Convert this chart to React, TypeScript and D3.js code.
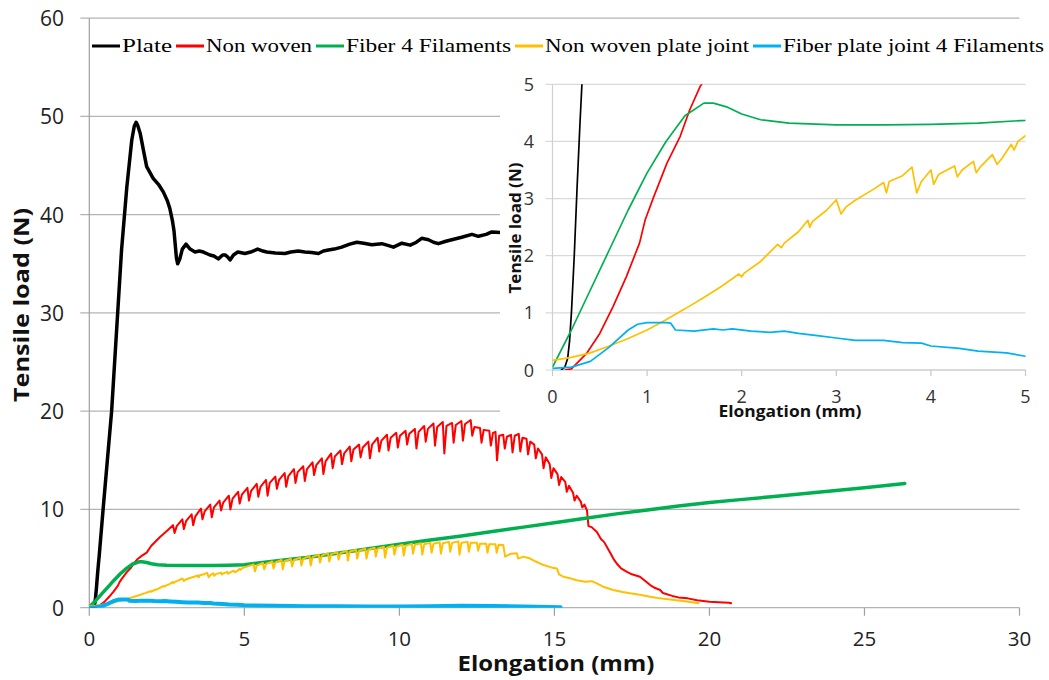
import React from "react";
import * as d3 from "d3";

type P = [number, number];

// ---------------- DATA ----------------
const seriesNames = [
  "Plate",
  "Non woven",
  "Fiber 4 Filaments",
  "Non woven plate joint",
  "Fiber plate joint 4 Filaments",
];

const plate: P[] = [
  [0.09, 0], [0.13, 0.05], [0.16, 0.2], [0.18, 0.5], [0.2, 1.0], [0.23, 2.0], [0.26, 3.2], [0.29, 4.3],
  [0.32, 5.3], [0.45, 10.2], [0.72, 20], [1.04, 36.4], [1.21, 42.8], [1.37, 47.6], [1.45, 49.0], [1.51, 49.4],
  [1.56, 49.1], [1.64, 48.3], [1.75, 46.5], [1.85, 44.9], [2.06, 43.7], [2.25, 43.0], [2.39, 42.3], [2.52, 41.4],
  [2.6, 40.6], [2.68, 39.4], [2.73, 38.4], [2.77, 37.0], [2.81, 35.6], [2.85, 35.0], [2.92, 35.5], [3.0, 36.5],
  [3.12, 37.0], [3.25, 36.5], [3.41, 36.2], [3.55, 36.3], [3.68, 36.2], [3.89, 35.9], [4.02, 35.8], [4.16, 35.5],
  [4.3, 35.9], [4.38, 35.9], [4.46, 35.7], [4.54, 35.4], [4.65, 35.9], [4.79, 36.2], [5.02, 36.05], [5.2, 36.2],
  [5.43, 36.5], [5.6, 36.3], [5.72, 36.2], [6.0, 36.1], [6.31, 36.05], [6.5, 36.2], [6.74, 36.3], [6.95, 36.2],
  [7.17, 36.15], [7.39, 36.05], [7.55, 36.3], [7.71, 36.4], [7.9, 36.5], [8.14, 36.7], [8.4, 37.0], [8.63, 37.2],
  [8.85, 37.1], [9.11, 36.95], [9.43, 37.05], [9.6, 36.9], [9.81, 36.7], [10.08, 37.1], [10.35, 36.9], [10.55, 37.2],
  [10.72, 37.6], [10.94, 37.45], [11.1, 37.2], [11.26, 37.05], [11.5, 37.3], [11.69, 37.45], [12.01, 37.7],
  [12.34, 38.0], [12.55, 37.8], [12.8, 38.0], [12.98, 38.25], [13.25, 38.2], [13.5, 38.1], [13.8, 38.3],
  [14.0, 38.0], [14.3, 38.2], [14.6, 38.4], [14.8, 38.2],
];

const nonWoven: P[] = [
  [0.13, 0], [0.2, 0.02], [0.36, 0.29], [0.5, 0.64], [0.64, 1.11], [0.78, 1.63], [0.92, 2.22], [0.98, 2.63],
  [1.07, 3.03], [1.21, 3.62], [1.35, 4.09], [1.45, 4.55], [1.56, 4.96], [1.7, 5.3], [1.85, 5.6], [2.0, 6.3],
  [2.28, 7.2], [2.5, 7.8],
  [2.7, 8.4], [2.75, 7.6], [2.82, 8.3],
  [3.0, 9.0], [3.05, 8.0], [3.12, 8.8],
  [3.3, 9.5], [3.35, 8.4], [3.42, 9.3],
  [3.6, 10.1], [3.65, 9.0], [3.72, 9.8],
  [3.9, 10.5], [3.95, 9.2], [4.02, 10.2],
  [4.2, 10.9], [4.25, 9.9], [4.32, 10.7],
  [4.5, 11.4], [4.55, 10.0], [4.62, 11.1],
  [4.8, 11.8], [4.85, 10.6], [4.92, 11.5],
  [5.1, 12.2], [5.15, 10.9], [5.22, 11.9],
  [5.4, 12.6], [5.45, 11.3], [5.52, 12.3],
  [5.7, 13.0], [5.75, 11.4], [5.82, 12.7],
  [6.0, 13.35], [6.05, 12.1], [6.12, 13.0],
  [6.3, 13.7], [6.35, 12.3], [6.42, 13.4],
  [6.6, 14.1], [6.65, 12.7], [6.72, 13.8],
  [6.9, 14.4], [6.95, 12.9], [7.02, 14.1],
  [7.2, 14.8], [7.25, 13.5], [7.32, 14.5],
  [7.5, 15.2], [7.55, 13.6], [7.62, 14.9],
  [7.8, 15.7], [7.85, 14.2], [7.92, 15.4],
  [8.1, 16.0], [8.15, 14.6], [8.22, 15.7],
  [8.4, 16.4], [8.45, 14.9], [8.52, 16.1],
  [8.7, 16.6], [8.75, 15.3], [8.82, 16.3],
  [9.0, 16.9], [9.05, 15.2], [9.12, 16.6],
  [9.3, 17.3], [9.35, 15.9], [9.42, 17.0],
  [9.6, 17.6], [9.65, 16.0], [9.72, 17.3],
  [9.9, 17.8], [9.95, 16.3], [10.02, 17.5],
  [10.2, 18.0], [10.25, 16.6], [10.32, 17.7],
  [10.5, 18.2], [10.55, 16.2], [10.62, 17.9],
  [10.8, 18.5], [10.85, 16.9], [10.92, 18.2],
  [11.1, 18.75], [11.15, 16.5], [11.22, 18.4],
  [11.4, 18.9], [11.45, 15.7], [11.52, 18.5],
  [11.7, 18.8], [11.75, 16.8], [11.82, 18.6],
  [12.0, 19.0], [12.05, 17.0], [12.12, 18.7],
  [12.3, 19.1], [12.35, 17.5], [12.42, 18.4],
  [12.6, 18.3], [12.65, 16.8], [12.72, 18.1],
  [12.9, 18.0], [12.95, 16.5], [13.02, 17.8],
  [13.1, 17.9], [13.15, 15.0], [13.22, 17.5],
  [13.35, 17.6], [13.4, 16.2], [13.47, 17.4],
  [13.6, 17.6], [13.65, 15.8], [13.72, 17.5],
  [13.85, 17.7], [13.9, 15.9], [13.97, 17.3],
  [14.1, 17.2], [14.15, 15.6], [14.22, 16.9],
  [14.35, 16.6], [14.4, 15.2], [14.47, 16.2],
  [14.6, 15.6], [14.65, 14.2], [14.72, 15.3],
  [14.85, 14.6], [14.9, 13.2], [14.97, 14.2],
  [15.1, 13.6], [15.15, 12.5], [15.22, 13.3],
  [15.35, 12.8], [15.4, 11.8], [15.47, 12.4],
  [15.6, 11.7], [15.65, 10.9], [15.72, 11.4],
  [15.85, 10.8], [15.9, 10.2], [15.97, 10.5],
  [16.05, 9.9], [16.1, 8.3], [16.2, 8.2], [16.37, 7.7], [16.5, 7.0], [16.6, 6.7], [16.69, 6.2], [16.8, 5.6],
  [16.9, 5.0], [17.01, 4.5], [17.15, 4.0], [17.34, 3.65], [17.5, 3.4], [17.76, 3.15], [17.9, 2.8], [18.09, 2.3],
  [18.25, 2.0], [18.41, 1.8], [18.5, 1.5], [18.8, 1.2], [19.0, 1.05], [19.3, 0.95], [19.6, 0.75], [20.0, 0.6],
  [20.3, 0.55], [20.63, 0.5], [20.7, 0.45],
];

const fiber4: P[] = [
  [0, 0.05], [0.2, 0.7], [0.4, 1.4], [0.6, 2.1], [0.8, 2.8], [1.0, 3.45], [1.2, 4.0], [1.4, 4.45], [1.6, 4.67],
  [1.7, 4.67], [1.85, 4.6], [2.0, 4.48], [2.2, 4.38], [2.5, 4.32], [3.0, 4.29], [3.5, 4.29], [4.0, 4.3],
  [4.5, 4.32], [5.0, 4.37], [6.0, 4.75], [7.0, 5.1], [8.0, 5.55], [9.0, 6.0], [10.0, 6.45], [11.0, 6.9],
  [12.0, 7.3], [13.0, 7.75], [14.0, 8.2], [15.0, 8.65], [16.0, 9.1], [17.0, 9.55], [18.0, 9.95], [19.0, 10.35],
  [20.0, 10.7], [21.0, 11.0], [22.0, 11.3], [23.0, 11.6], [24.0, 11.9], [25.0, 12.2], [26.0, 12.55], [26.3, 12.65],
];

const nonWovenJoint: P[] = [
  [0, 0.17], [0.2, 0.22], [0.4, 0.3], [0.6, 0.42], [0.8, 0.55], [1.0, 0.7], [1.2, 0.88], [1.4, 1.07], [1.6, 1.27],
  [1.8, 1.48], [1.97, 1.68], [2.0, 1.63], [2.03, 1.7], [2.2, 1.9], [2.38, 2.2], [2.42, 2.14], [2.45, 2.22],
  [2.6, 2.42], [2.7, 2.62], [2.72, 2.5], [2.75, 2.6], [2.9, 2.8], [3.0, 2.98], [3.05, 2.73], [3.1, 2.85],
  [3.2, 2.97], [3.4, 3.17], [3.5, 3.28], [3.53, 3.1], [3.56, 3.3], [3.7, 3.4], [3.8, 3.55], [3.85, 3.1],
  [3.9, 3.3], [4.0, 3.5], [4.03, 3.25], [4.08, 3.42], [4.25, 3.57], [4.28, 3.38], [4.33, 3.5], [4.45, 3.65],
  [4.48, 3.45], [4.52, 3.55], [4.65, 3.77], [4.7, 3.6], [4.75, 3.7], [4.85, 3.95], [4.88, 3.85], [4.92, 4.0],
  [5.0, 4.1],
  [5.3, 4.4], [5.34, 3.7], [5.4, 4.3],
  [5.6, 4.55], [5.64, 3.9], [5.7, 4.45],
  [5.9, 4.7], [5.94, 4.0], [6.0, 4.6],
  [6.2, 4.85], [6.24, 3.9], [6.3, 4.75],
  [6.5, 4.95], [6.54, 4.2], [6.6, 4.85],
  [6.8, 5.1], [6.84, 4.3], [6.9, 5.0],
  [7.1, 5.25], [7.14, 4.3], [7.2, 5.15],
  [7.4, 5.4], [7.44, 4.6], [7.5, 5.3],
  [7.7, 5.55], [7.74, 4.7], [7.8, 5.45],
  [8.0, 5.65], [8.04, 4.9], [8.1, 5.55],
  [8.3, 5.8], [8.34, 4.8], [8.4, 5.7],
  [8.6, 5.9], [8.64, 5.0], [8.7, 5.8],
  [8.9, 6.0], [8.94, 5.0], [9.0, 5.9],
  [9.2, 6.1], [9.24, 5.2], [9.3, 6.0],
  [9.5, 6.2], [9.54, 5.1], [9.6, 6.1],
  [9.8, 6.3], [9.84, 5.4], [9.9, 6.2],
  [10.1, 6.4], [10.14, 5.3], [10.2, 6.3],
  [10.4, 6.5], [10.44, 5.5], [10.5, 6.4],
  [10.7, 6.55], [10.74, 5.4], [10.8, 6.45],
  [11.0, 6.6], [11.04, 5.6], [11.1, 6.5],
  [11.3, 6.65], [11.34, 5.5], [11.4, 6.55],
  [11.6, 6.7], [11.64, 5.7], [11.7, 6.6],
  [11.9, 6.75], [11.94, 5.4], [12.0, 6.6],
  [12.2, 6.7], [12.24, 5.7], [12.3, 6.6],
  [12.5, 6.6], [12.54, 5.8], [12.6, 6.5],
  [12.8, 6.5], [12.84, 5.6], [12.9, 6.45],
  [13.1, 6.45], [13.14, 5.6], [13.2, 6.4],
  [13.35, 6.38], [13.41, 5.2], [13.6, 5.5], [13.79, 5.53], [13.83, 5.0], [14.0, 5.2], [14.22, 5.0],
  [14.4, 4.7], [14.65, 4.34], [14.9, 4.1], [15.08, 4.0], [15.15, 3.4], [15.29, 3.15], [15.5, 3.0],
  [15.72, 2.8], [16.0, 2.65], [16.2, 2.7], [16.37, 2.48], [16.6, 2.1], [16.9, 1.8], [17.2, 1.6], [17.44, 1.46],
  [17.8, 1.3], [18.09, 1.12], [18.4, 0.95], [18.8, 0.8], [19.2, 0.65], [19.65, 0.45],
];

const fiberJoint: P[] = [
  [0, 0.03], [0.2, 0.05], [0.4, 0.15], [0.6, 0.4], [0.8, 0.7], [0.9, 0.8], [1.0, 0.83], [1.2, 0.83],
  [1.25, 0.82], [1.3, 0.7], [1.5, 0.68], [1.7, 0.72], [1.8, 0.7], [1.9, 0.72], [2.1, 0.68], [2.3, 0.66],
  [2.45, 0.68], [2.6, 0.64], [2.8, 0.6], [3.0, 0.56], [3.2, 0.52], [3.5, 0.52], [3.7, 0.48], [3.9, 0.47],
  [4.0, 0.42], [4.3, 0.38], [4.5, 0.33], [4.8, 0.3], [5.0, 0.24], [6.0, 0.2], [7.0, 0.15], [8.0, 0.15],
  [9.0, 0.12], [10.0, 0.12], [11.0, 0.15], [12.0, 0.2], [13.0, 0.18], [14.0, 0.12], [15.2, 0.05],
];

const mainXTicks = [0, 5, 10, 15, 20, 25, 30];
const mainYTicks = [0, 10, 20, 30, 40, 50, 60];
const insetXTicks = [0, 1, 2, 3, 4, 5];
const insetYTicks = [0, 1, 2, 3, 4, 5];

// ---------------- STYLE / LAYOUT ----------------
const allSeries = [plate, nonWoven, fiber4, nonWovenJoint, fiberJoint];
const colors = ["#000000", "#ff0000", "#00b050", "#ffc000", "#00b0f0"];
const mainWidths = [3.5, 2, 3.5, 2, 4];
const legendTextWidths = [50, 106, 165, 204, 261];

const W = 1049;
const H = 680;
const tickFont = "'Open Sans', 'DejaVu Sans', sans-serif";
const legendFont = "'Liberation Serif', 'Times New Roman', serif";

export default function App() {
  const x = d3.scaleLinear().domain([0, 30]).range([89.3, 1019.5]);
  const y = d3.scaleLinear().domain([0, 60]).range([607.7, 18.2]);
  const xi = d3.scaleLinear().domain([0, 5]).range([552.5, 1025.5]);
  const yi = d3.scaleLinear().domain([0, 5]).range([370, 84.3]);

  const mainLine = d3.line<P>().x((d) => x(d[0])).y((d) => y(d[1]));
  const insetLine = d3.line<P>().x((d) => xi(d[0])).y((d) => yi(d[1]));

  // legend layout
  let cursor = 92;
  const legendItems = seriesNames.map((name, i) => {
    const x0 = cursor;
    const item = { name, i, x0, tx: x0 + 30, w: legendTextWidths[i] };
    cursor = x0 + 30 + legendTextWidths[i] + 4;
    return item;
  });

  return (
    <svg
      width={W}
      height={H}
      style={{ position: "absolute", left: 0, top: 0, background: "#fff" }}
      xmlns="http://www.w3.org/2000/svg"
    >
      <defs>
        <clipPath id="insetClip">
          <rect x={xi(0)} y={yi(5)} width={xi(5) - xi(0)} height={yi(0) - yi(5)} />
        </clipPath>
        <clipPath id="mainClip">
          <rect x={x(0)} y={y(60)} width={x(30) - x(0)} height={y(0) - y(60)} />
        </clipPath>
      </defs>
      <rect x={0} y={0} width={W} height={H} fill="#fff" />

      {/* main gridlines */}
      {mainYTicks.map((t) => (
        <line key={"gy" + t} x1={x(0) - 9} x2={x(30)} y1={y(t)} y2={y(t)} stroke="#b4b4b4" strokeWidth={1.2} />
      ))}
      <line x1={x(0)} x2={x(0)} y1={y(60)} y2={y(0)} stroke="#a0a0a0" strokeWidth={1.2} />
      {mainXTicks.map((t) => (
        <line key={"tx" + t} x1={x(t)} x2={x(t)} y1={y(0)} y2={y(0) + 8} stroke="#a0a0a0" strokeWidth={1.2} />
      ))}

      {/* main tick labels */}
      {mainYTicks.map((t) => (
        <text key={"ly" + t} x={64} y={y(t) + 8} textAnchor="end" fontFamily={tickFont} fontSize={21} fill="#222">
          {t}
        </text>
      ))}
      {mainXTicks.map((t) => (
        <text key={"lx" + t} x={x(t)} y={646} textAnchor="middle" fontFamily={tickFont} fontSize={20.5} fill="#222">
          {t}
        </text>
      ))}

      {/* main series */}
      <g clipPath="url(#mainClip)">
        {allSeries.map((s, i) => (
          <path
            key={"m" + i}
            d={mainLine(s) || ""}
            fill="none"
            stroke={colors[i]}
            strokeWidth={mainWidths[i]}
            strokeLinejoin="round"
            strokeLinecap="round"
          />
        ))}
      </g>

      {/* main axis titles */}
      <text
        x={556}
        y={671}
        textAnchor="middle"
        fontFamily={tickFont}
        fontWeight="bold"
        fontSize={21.5}
        textLength={197}
        lengthAdjust="spacingAndGlyphs"
        fill="#111"
      >
        Elongation (mm)
      </text>
      <text
        transform={`translate(29,305) rotate(-90)`}
        textAnchor="middle"
        fontFamily={tickFont}
        fontWeight="bold"
        fontSize={22}
        textLength={194}
        lengthAdjust="spacingAndGlyphs"
        fill="#111"
      >
        Tensile load (N)
      </text>

      {/* inset */}
      <rect x={500} y={66} width={W - 500} height={358} fill="#fff" />
      {insetYTicks.map((t) => (
        <line key={"igy" + t} x1={xi(0) - 7} x2={xi(5)} y1={yi(t)} y2={yi(t)} stroke="#d9d9d9" strokeWidth={1.2} />
      ))}
      <line x1={xi(0)} x2={xi(0)} y1={yi(5)} y2={yi(0)} stroke="#d0d0d0" strokeWidth={1.2} />
      <line x1={xi(0)} x2={xi(5)} y1={yi(0)} y2={yi(0)} stroke="#c8c8c8" strokeWidth={1.2} />
      {insetXTicks.map((t) => (
        <line key={"itx" + t} x1={xi(t)} x2={xi(t)} y1={yi(0)} y2={yi(0) + 6} stroke="#c8c8c8" strokeWidth={1.2} />
      ))}
      {insetYTicks.map((t) => (
        <text key={"ily" + t} x={534} y={yi(t) + 6.5} textAnchor="end" fontFamily={tickFont} fontSize={18} fill="#333">
          {t}
        </text>
      ))}
      {insetXTicks.map((t) => (
        <text key={"ilx" + t} x={xi(t)} y={403} textAnchor="middle" fontFamily={tickFont} fontSize={18} fill="#333">
          {t}
        </text>
      ))}
      <g clipPath="url(#insetClip)">
        {allSeries.map((s, i) => (
          <path
            key={"in" + i}
            d={insetLine(s) || ""}
            fill="none"
            stroke={colors[i]}
            strokeWidth={1.7}
            strokeLinejoin="round"
          />
        ))}
      </g>
      <text
        x={790}
        y={417}
        textAnchor="middle"
        fontFamily={tickFont}
        fontWeight="bold"
        fontSize={16}
        textLength={143}
        lengthAdjust="spacingAndGlyphs"
        fill="#111"
      >
        Elongation (mm)
      </text>
      <text
        transform={`translate(521,228) rotate(-90)`}
        textAnchor="middle"
        fontFamily={tickFont}
        fontWeight="bold"
        fontSize={16}
        textLength={131}
        lengthAdjust="spacingAndGlyphs"
        fill="#111"
      >
        Tensile load (N)
      </text>

      {/* legend */}
      {legendItems.map((it) => (
        <g key={"lg" + it.i}>
          <line
            x1={it.x0}
            x2={it.x0 + 28}
            y1={46}
            y2={46}
            stroke={colors[it.i]}
            strokeWidth={3}
          />
          <text
            x={it.tx}
            y={52}
            fontFamily={legendFont}
            fontSize={18}
            textLength={it.w}
            lengthAdjust="spacingAndGlyphs"
            fill="#000"
          >
            {it.name}
          </text>
        </g>
      ))}
    </svg>
  );
}
